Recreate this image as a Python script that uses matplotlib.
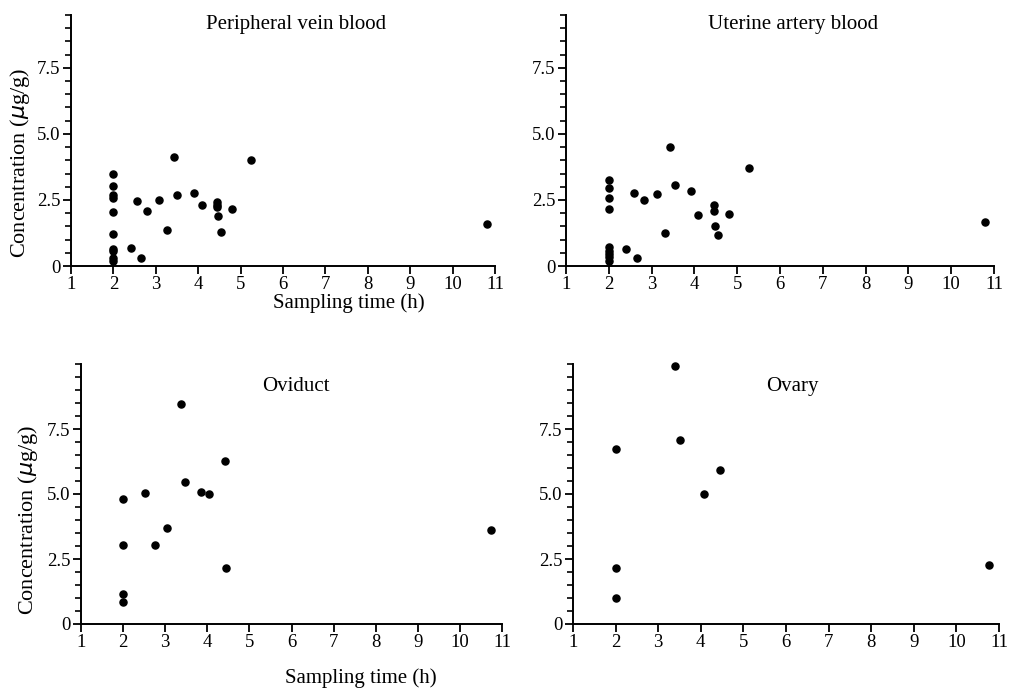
import matplotlib.pyplot as plt
from matplotlib.ticker import MultipleLocator

plt.rcParams['font.family'] = ['Liberation Serif', 'DejaVu Serif']

# Peripheral vein blood
pv_time = [2, 2, 2, 2, 2, 2, 2, 2, 2, 2,
           2.41, 2.56, 2.64, 2.80, 3.08, 3.27, 3.42, 3.51, 3.89, 4.09,
           4.45, 4.45, 4.45, 4.46, 4.53, 4.79, 5.25, 10.8]
pv_conc = [3.48, 3.03, 2.70, 2.58, 2.05, 1.20, 0.66, 0.55, 0.29, 0.20,
           0.67, 2.45, 0.29, 2.07, 2.50, 1.36, 4.11, 2.69, 2.77, 2.30,
           2.42, 2.32, 2.24, 1.90, 1.29, 2.15, 4.01, 1.59]

# Uterine artery blood
ua_time = [2, 2, 2, 2, 2, 2, 2, 2, 2,
           2.41, 2.58, 2.66, 2.82, 3.13, 3.31, 3.44, 3.54, 3.91, 4.09,
           4.45, 4.46, 4.47, 4.56, 4.82, 5.28, 10.8]
ua_conc = [3.26, 2.95, 2.58, 2.17, 0.71, 0.57, 0.44, 0.33, 0.19,
           0.64, 2.77, 0.30, 2.49, 2.74, 1.25, 4.49, 3.06, 2.83, 1.94,
           2.32, 2.09, 1.51, 1.16, 1.97, 3.71, 1.65]

# Oviduct
od_time = [2, 2, 2, 2, 2.51, 2.76, 3.04, 3.38, 3.47, 3.86, 4.04, 4.41, 4.44, 10.75]
od_conc = [4.80, 3.04, 1.14, 0.83, 5.05, 3.05, 3.71, 8.46, 5.48, 5.09, 5.01, 6.26, 2.17, 3.61]

# Ovary
oy_time = [2, 2, 2, 3.40, 3.51, 4.08, 4.44, 10.77]
oy_conc = [6.73, 2.17, 0.99, 9.92, 7.08, 5.00, 5.92, 2.28]

titles = ['Peripheral vein blood', 'Uterine artery blood', 'Oviduct', 'Ovary']
x_ticks = list(range(1, 12))
y_ticks = [0, 2.5, 5.0, 7.5]
y_ticklabels = ['0', '2.5', '5.0', '7.5']

fig = plt.figure(figsize=(10.16, 6.92), dpi=100)
W, H = 1016, 692

# axes boxes in pixels: left, right, top, bottom
boxes = [(71, 495, 15, 266), (566, 994, 15, 266),
         (81, 502, 364, 624), (573, 999, 364, 624)]
ytops = [9.5, 9.5, 10.0, 10.0]
title_x = [6.3, 6.3, 6.1, 6.15]
data = [(pv_time, pv_conc), (ua_time, ua_conc), (od_time, od_conc), (oy_time, oy_conc)]

for i, (l, r, t, b) in enumerate(boxes):
    ax = fig.add_axes([l / W, 1 - b / H, (r - l) / W, (b - t) / H])
    x, y = data[i]
    ax.scatter(x, y, s=26, color='black', zorder=3, clip_on=False)
    ax.set_xlim(1, 11)
    ax.set_ylim(0, ytops[i])
    ax.spines['top'].set_visible(False)
    ax.spines['right'].set_visible(False)
    for s in ['left', 'bottom']:
        ax.spines[s].set_linewidth(1.4)
    ax.set_xticks(x_ticks)
    ax.set_yticks(y_ticks)
    ax.set_yticklabels(y_ticklabels)
    ax.yaxis.set_minor_locator(MultipleLocator(0.5))
    ax.tick_params(axis='both', which='major', direction='out', length=6, width=1.3,
                   labelsize=13.5, pad=1.5)
    ax.tick_params(axis='y', which='minor', direction='out', length=4, width=1.2)
    ax.text(title_x[i], 9.15, titles[i], ha='center', va='center', fontsize=15)

fig.text(349 / W, 1 - 303 / H, 'Sampling time (h)', ha='center', va='center', fontsize=15)
fig.text(361 / W, 1 - 678 / H, 'Sampling time (h)', ha='center', va='center', fontsize=15)
fig.text(20 / W, 1 - 163 / H, r'Concentration ($\mu$g/g)', rotation=90,
         ha='center', va='center', fontsize=16)
fig.text(28 / W, 1 - 520 / H, r'Concentration ($\mu$g/g)', rotation=90,
         ha='center', va='center', fontsize=16)

plt.savefig('out.png', dpi=100)
